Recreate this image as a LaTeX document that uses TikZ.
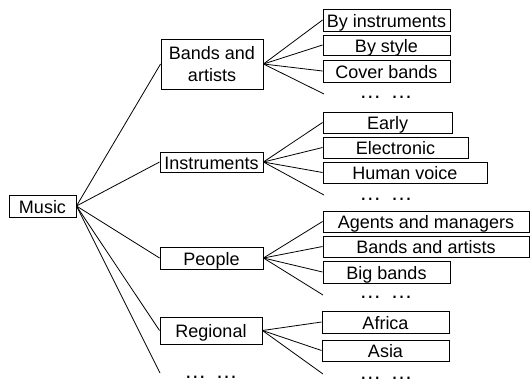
\documentclass[tikz,border=0pt]{standalone}
\usepackage{fontspec}
\setmainfont{Liberation Sans}
\begin{document}
\begin{tikzpicture}[x=1pt,y=-1pt,
  boxbase/.style={draw=black, line width=0.9pt, inner sep=0pt,
    font=\fontsize{18}{22.4}\selectfont},
  box/.style={boxbase, text height=14pt, text depth=0pt},
  dotsnode/.style={inner sep=0pt, anchor=base, font=\fontsize{22}{22}\selectfont},
  link/.style={draw=black, line width=0.8pt}]
\useasboundingbox (0,0) rectangle (530,383);
% root
\node[box, minimum width=67pt, minimum height=22pt] (music) at (42.5,206) {Music};
% level 1
\node[boxbase, minimum width=102pt, minimum height=50pt, align=center] (bands) at (212,64) {Bands and\\artists};
\node[box, minimum width=103pt, minimum height=20pt] (instr) at (211.5,162) {Instruments};
\node[box, minimum width=103pt, minimum height=22pt] (people) at (211.5,258) {People};
\node[box, minimum width=102pt, minimum height=27pt] (regional) at (211,330.5) {Regional};
\node[dotsnode] (dots0) at (211,378.5) {…\hspace{9.3pt}…};
\coordinate (e0) at (160,373);
% level 2 : bands
\node[box, minimum width=127pt, minimum height=22pt] (byinst) at (386.5,20) {By instruments};
\node[box, minimum width=127pt, minimum height=20pt] (bystyle) at (386.5,45) {By style};
\node[box, minimum width=127pt, minimum height=22pt] (cover) at (386.5,71) {Cover bands};
\node[dotsnode] (dots1) at (386,98.5) {…\hspace{9.3pt}…};
\coordinate (e1) at (324,94);
% level 2 : instruments
\node[box, minimum width=129pt, minimum height=21pt] (early) at (387.5,122.5) {Early};
\node[box, minimum width=145pt, minimum height=21pt] (electronic) at (395.5,147.5) {Electronic};
\node[box, minimum width=164pt, minimum height=21pt] (human) at (405,172.5) {Human voice};
\node[dotsnode] (dots2) at (386,200.5) {…\hspace{9.3pt}…};
\coordinate (e2) at (324,195);
% level 2 : people
\node[box, minimum width=206pt, minimum height=21pt] (agents) at (426,221.5) {Agents and managers};
\node[box, minimum width=206pt, minimum height=21pt] (bandsart) at (426,246.5) {Bands and artists};
\node[box, minimum width=127pt, minimum height=22pt] (big) at (386.5,272) {Big bands};
\node[dotsnode] (dots3) at (386,298.5) {…\hspace{9.3pt}…};
\coordinate (e3) at (323,295);
% level 2 : regional
\node[box, minimum width=127pt, minimum height=22pt] (africa) at (385.5,322) {Africa};
\node[box, minimum width=127pt, minimum height=21pt] (asia) at (385.5,350.5) {Asia};
\node[dotsnode] (dots4) at (386,379.5) {…\hspace{9.3pt}…};
\coordinate (e4) at (323,374);
% connectors
\foreach \t in {bands,instr,people,regional} \draw[link] (music.east) -- (\t.west);
\draw[link] (music.east) -- (e0);
\foreach \t in {byinst,bystyle,cover} \draw[link] (bands.east) -- (\t.west);
\draw[link] (bands.east) -- (e1);
\foreach \t in {early,electronic,human} \draw[link] (instr.east) -- (\t.west);
\draw[link] (instr.east) -- (e2);
\foreach \t in {agents,bandsart,big} \draw[link] (people.east) -- (\t.west);
\draw[link] (people.east) -- (e3);
\foreach \t in {africa,asia} \draw[link] (regional.east) -- (\t.west);
\draw[link] (regional.east) -- (e4);
\end{tikzpicture}
\end{document}
